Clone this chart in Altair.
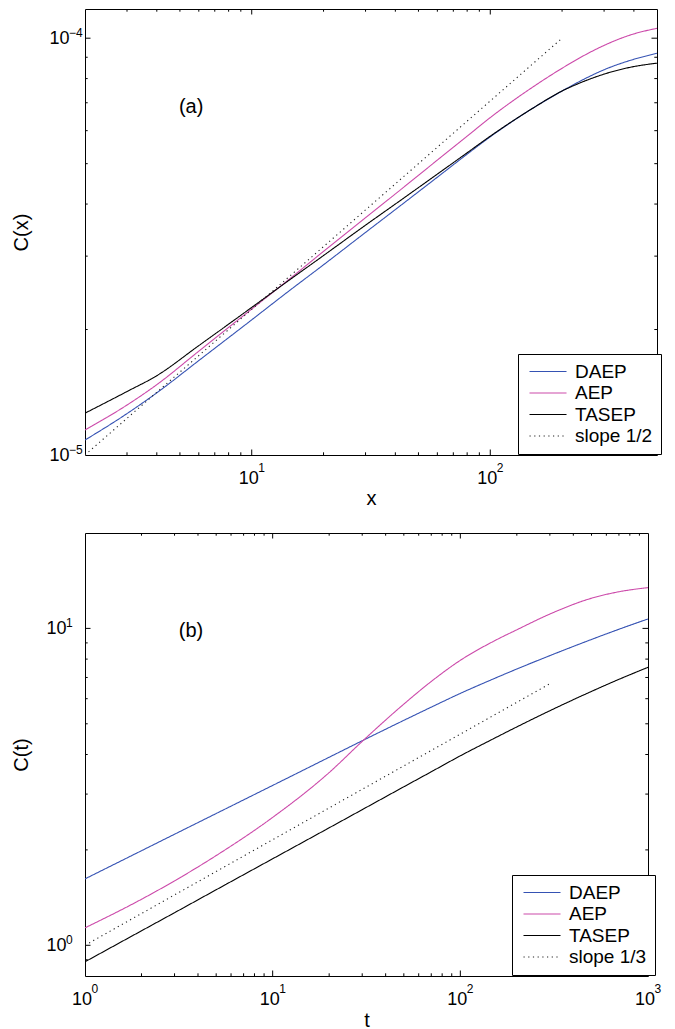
import math
import altair as alt
import pandas as pd

FONT = "Liberation Sans"
BLUE = "#3552b3"
MAG = "#cc4aaa"
BLACK = "#000000"
DOT = "#222222"

# ---------------- panel (a): C(x) ----------------
unit_a = 1e-5
x_a = [2, 3, 4, 6, 10, 14, 20, 30, 40, 60, 80, 100, 150, 200, 250, 300, 400, 500]
daep_a = [1.086, 1.257, 1.41, 1.685, 2.11, 2.45, 2.86, 3.42, 3.88, 4.64, 5.27, 5.80, 6.78, 7.47, 8.0, 8.4, 8.9, 9.2]
aep_a = [1.148, 1.318, 1.475, 1.775, 2.24, 2.61, 3.08, 3.71, 4.23, 5.10, 5.82, 6.45, 7.62, 8.47, 9.12, 9.61, 10.24, 10.56]
tasep_a = [1.26, 1.42, 1.55, 1.83, 2.26, 2.60, 3.01, 3.56, 4.00, 4.72, 5.31, 5.82, 6.78, 7.47, 7.90, 8.20, 8.55, 8.71]
slope_a_x = [2, 200]
slope_a_y = [1.0, 10.0]
names_a = ["DAEP", "AEP", "TASEP", "slope 1/2"]
note_a = ["(a)", 5.57, 6.84e-5]

xdom_a = [2, 500]
ydom_a = [1e-5, 1.175e-4]
xlab_a = [10, 100]
xexp_a = ["1", "2"]
ylab_a = [1e-5, 1e-4]
yexp_a = ["\u22125", "\u22124"]
xmaj_a = [10, 100]
xmin_a = [3, 4, 5, 6, 7, 8, 9, 20, 30, 40, 50, 60, 70, 80, 90, 200, 300, 400]
ymaj_a = [1e-4]
ymin_a = [2e-5, 3e-5, 4e-5, 5e-5, 6e-5, 7e-5, 8e-5, 9e-5]

# ---------------- panel (b): C(t) ----------------
t_b = [1, 2, 3, 5, 10, 20, 30, 50, 70, 100, 150, 200, 300, 500, 700, 1000]
daep_b = [1.62, 1.988, 2.241, 2.605, 3.195, 3.921, 4.42, 5.127, 5.643, 6.236, 6.928, 7.445, 8.205, 9.228, 9.938, 10.71]
aep_b = [1.135, 1.397, 1.597, 1.919, 2.533, 3.508, 4.40, 5.77, 6.80, 7.93, 9.10, 9.90, 11.1, 12.45, 13.05, 13.45]
tasep_b = [0.887, 1.111, 1.267, 1.497, 1.875, 2.348, 2.679, 3.164, 3.528, 3.962, 4.484, 4.888, 5.498, 6.327, 6.906, 7.537]
slope_b_x = [1, 300]
slope_b_y = [1.0, 6.69]
names_b = ["DAEP", "AEP", "TASEP", "slope 1/3"]
note_b = ["(b)", 3.67, 9.8]

xdom_b = [1, 1000]
ydom_b = [0.8, 20]
xlab_b = [1, 10, 100, 1000]
xexp_b = ["0", "1", "2", "3"]
ylab_b = [1, 10]
yexp_b = ["0", "1"]
xmaj_b = [10, 100]
xmin_b = [2, 3, 4, 5, 6, 7, 8, 9, 20, 30, 40, 50, 60, 70, 80, 90, 200, 300, 400, 500, 600, 700, 800, 900]
ymaj_b = [1, 10]
ymin_b = [0.9, 2, 3, 4, 5, 6, 7, 8, 9]


def make_df(series, scale=1.0):
    rows = []
    for name, ys, xv in series:
        for xx, yy in zip(xv, ys):
            rows.append({"x": xx, "y": yy * scale, "series": name})
    return pd.DataFrame(rows)


def panel(df, names, xdom, ydom, xlab, xexp, ylab, yexp, xmaj, xmin, ymaj, ymin,
          W, H, xtitle, ytitle, note, legx, legy, title_y, ypad):
    xs = alt.Scale(type="log", domain=xdom, nice=False)
    ys = alt.Scale(type="log", domain=ydom, nice=False)
    leg = alt.Legend(title=None, orient="none", legendX=legx, legendY=legy, direction="vertical",
                     strokeColor="black", fillColor="white", padding=8,
                     symbolType="M-1,0H5.17", symbolSize=144, symbolStrokeWidth=1.1,
                     labelFont=FONT, labelFontSize=19, labelOffset=30, rowPadding=1.5,
                     labelColor="black", cornerRadius=0)
    xaxis = alt.Axis(values=xlab, labelExpr="'10'", ticks=False, tickSize=0,
                     domain=False, grid=False, labelFont=FONT, labelFontSize=18, labelColor="black",
                     labelPadding=14, labelOffset=-3.5, labelFlush=False, labelOverlap=False,
                     title=xtitle, titleFont=FONT, titleFontSize=20, titleFontWeight="normal",
                     titleColor="black", titleY=title_y, titleBaseline="alphabetic")
    yaxis = alt.Axis(values=ylab, labelExpr="'10'", ticks=False, tickSize=0,
                     domain=False, grid=False, labelFont=FONT, labelFontSize=18, labelColor="black",
                     labelPadding=ypad, labelFlush=False, labelOverlap=False, title=ytitle,
                     titleFont=FONT, titleFontSize=20, titleFontWeight="normal", titleColor="black",
                     titleX=-64, titleAngle=270, titleBaseline="middle")
    X = lambda: alt.X("x:Q", scale=xs, axis=xaxis)
    Y = lambda: alt.Y("y:Q", scale=ys, axis=yaxis)

    lines = alt.Chart(df).mark_line(strokeWidth=1.1, interpolate="monotone", clip=True).encode(
        x=X(), y=Y(),
        color=alt.Color("series:N", scale=alt.Scale(domain=names, range=[BLUE, MAG, BLACK, DOT]), legend=leg),
        strokeDash=alt.StrokeDash("series:N", scale=alt.Scale(domain=names, range=[[1, 0], [1, 0], [1, 0], [1.2, 3.5]]), legend=leg),
    )
    note_df = pd.DataFrame({"x": [note[1]], "y": [note[2]], "label": [note[0]]})
    text = alt.Chart(note_df).mark_text(font=FONT, fontSize=20, color="black").encode(
        x=X(), y=Y(), text="label:N")

    # exponents of the tick labels (superscripts)
    xe = pd.DataFrame({"x": xlab, "e": xexp})
    xexp_layer = alt.Chart(xe).mark_text(font=FONT, fontSize=12, color="black", align="left",
                                         baseline="alphabetic", dx=6.5).encode(
        x=X(), y=alt.value(H + 16.5), text="e:N")
    ye = pd.DataFrame({"y": ylab, "e": yexp})
    yexp_layer = alt.Chart(ye).mark_text(font=FONT, fontSize=12, color="black", align="left",
                                         baseline="alphabetic", dy=-1).encode(
        y=Y(), x=alt.value(-ypad), text="e:N")

    layers = [lines, text, xexp_layer, yexp_layer]
    for vals, ln in ((xmaj, 5.5), (xmin, 2.7)):
        d = pd.DataFrame({"x": vals})
        layers.append(alt.Chart(d).mark_rule(color="black", strokeWidth=1).encode(
            x=X(), y=alt.value(H), y2=alt.value(H - ln)))
        layers.append(alt.Chart(d).mark_rule(color="black", strokeWidth=1).encode(
            x=X(), y=alt.value(0), y2=alt.value(ln)))
    for vals, ln in ((ymaj, 5.5), (ymin, 2.7)):
        d = pd.DataFrame({"y": vals})
        layers.append(alt.Chart(d).mark_rule(color="black", strokeWidth=1).encode(
            y=Y(), x=alt.value(0), x2=alt.value(ln)))
        layers.append(alt.Chart(d).mark_rule(color="black", strokeWidth=1).encode(
            y=Y(), x=alt.value(W), x2=alt.value(W - ln)))
    return alt.layer(*layers).properties(width=W, height=H)


df_a = make_df([("DAEP", daep_a, x_a), ("AEP", aep_a, x_a), ("TASEP", tasep_a, x_a),
                ("slope 1/2", slope_a_y, slope_a_x)], unit_a)
df_b = make_df([("DAEP", daep_b, t_b), ("AEP", aep_b, t_b), ("TASEP", tasep_b, t_b),
                ("slope 1/3", slope_b_y, slope_b_x)])

top = panel(df_a, names_a, xdom_a, ydom_a, xlab_a, xexp_a, ylab_a, yexp_a,
            xmaj_a, xmin_a, ymaj_a, ymin_a, 572, 446, "x", "C(x)", note_a, 433, 345, 49, 16)
bot = panel(df_b, names_b, xdom_b, ydom_b, xlab_b, xexp_b, ylab_b, yexp_b,
            xmaj_b, xmin_b, ymaj_b, ymin_b, 563, 443, "t", "C(t)", note_b, 427, 342, 50, 19)

chart = alt.vconcat(top, bot, spacing=78, bounds="flush").resolve_scale(
    x="independent", y="independent", color="independent", strokeDash="independent"
).resolve_legend(color="independent", strokeDash="independent").configure_view(
    stroke="black", strokeWidth=1
).properties(padding={"left": 2, "top": 0, "right": 0, "bottom": 0})

chart.save("out.html", embed_options={"renderer": "svg", "actions": False})
